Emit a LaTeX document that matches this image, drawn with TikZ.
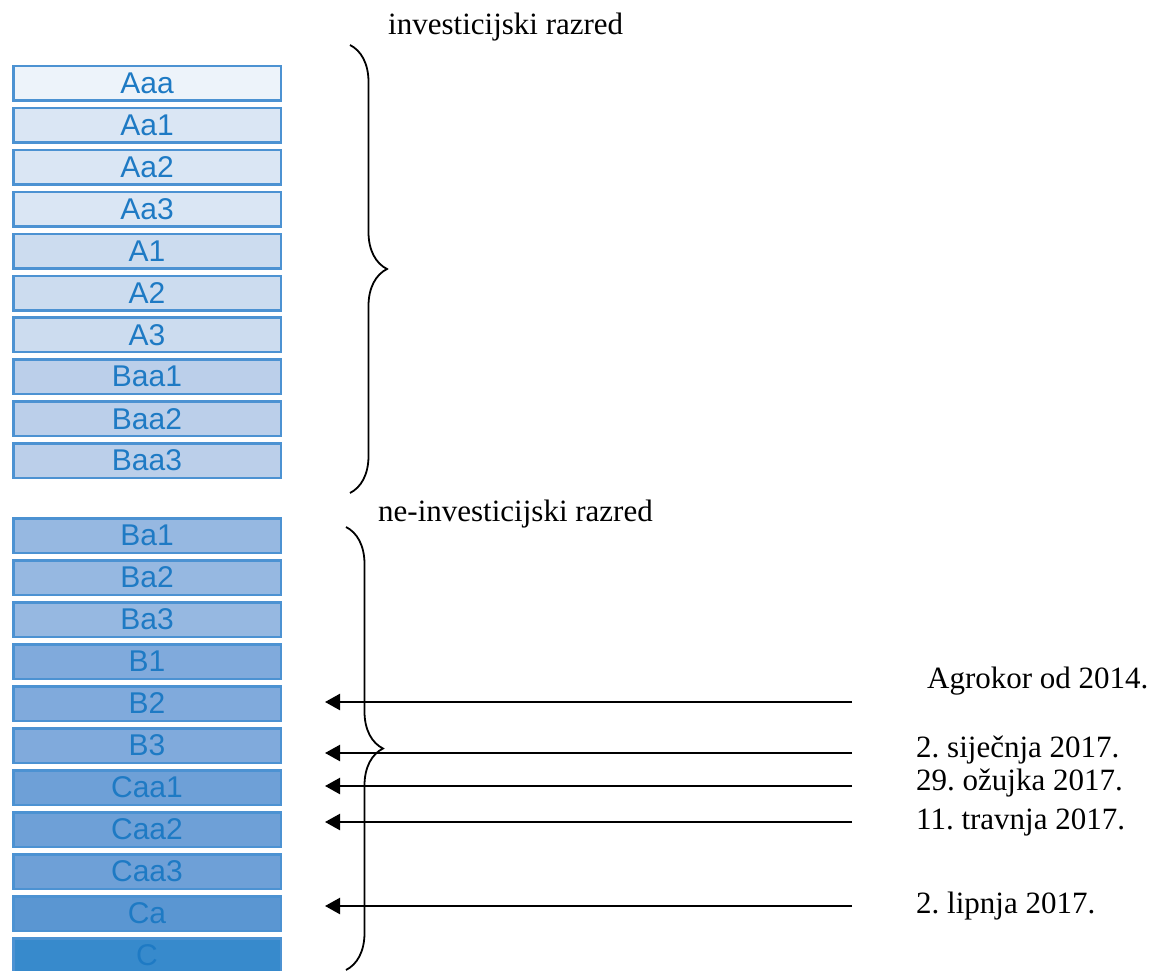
\documentclass[tikz,border=0pt]{standalone}
\usepackage{fontspec}
\setmainfont{Liberation Serif}
\newfontfamily\ratingfont{Liberation Sans}
\usetikzlibrary{arrows.meta,decorations.pathreplacing}
\definecolor{rateedge}{RGB}{76,146,210}
\definecolor{ratetext}{RGB}{30,122,196}
\definecolor{gAaa}{RGB}{237,243,250}
\definecolor{gAa}{RGB}{218,230,244}
\definecolor{gA}{RGB}{204,220,239}
\definecolor{gBaa}{RGB}{187,207,234}
\definecolor{gBa}{RGB}{150,184,225}
\definecolor{gB}{RGB}{128,170,220}
\definecolor{gCaa}{RGB}{110,160,215}
\definecolor{gCa}{RGB}{90,150,210}
\definecolor{gC}{RGB}{55,138,204}
\frenchspacing
\begin{document}
\begin{tikzpicture}[x=1pt,y=-1pt,
  rating/.style={draw=rateedge,line width=2.5pt,minimum width=267.5pt,minimum height=34.5pt,
    inner sep=0pt,text=ratetext,font=\ratingfont\fontsize{30}{30}\selectfont},
  arr/.style={line width=2.3pt,-{Triangle[length=15pt,width=16pt]}},
  brc/.style={line width=1.8pt,decorate,decoration={brace,amplitude=37pt}},
  lbl/.style={anchor=base west,inner sep=0pt,font=\fontsize{31}{31}\selectfont}]
\useasboundingbox (0,0) rectangle (1160,971);
% investicijski razred
\node[rating,fill=gAaa] (Aaa)  at (147,83.5)  {Aaa};
\node[rating,fill=gAa]  (Aa1)  at (147,125.4) {Aa1};
\node[rating,fill=gAa]  (Aa2)  at (147,167.3) {Aa2};
\node[rating,fill=gAa]  (Aa3)  at (147,209.2) {Aa3};
\node[rating,fill=gA]   (A1)   at (147,251.1) {A1};
\node[rating,fill=gA]   (A2)   at (147,293)   {A2};
\node[rating,fill=gA]   (A3)   at (147,334.9) {A3};
\node[rating,fill=gBaa] (Baa1) at (147,376.8) {Baa1};
\node[rating,fill=gBaa] (Baa2) at (147,418.7) {Baa2};
\node[rating,fill=gBaa] (Baa3) at (147,460.6) {Baa3};
% ne-investicijski razred
\node[rating,fill=gBa]  (Ba1)  at (147,535.5) {Ba1};
\node[rating,fill=gBa]  (Ba2)  at (147,577.5) {Ba2};
\node[rating,fill=gBa]  (Ba3)  at (147,619.5) {Ba3};
\node[rating,fill=gB]   (B1)   at (147,661.5) {B1};
\node[rating,fill=gB]   (B2)   at (147,703.5) {B2};
\node[rating,fill=gB]   (B3)   at (147,745.5) {B3};
\node[rating,fill=gCaa] (Caa1) at (147,787.5) {Caa1};
\node[rating,fill=gCaa] (Caa2) at (147,829.5) {Caa2};
\node[rating,fill=gCaa] (Caa3) at (147,871.5) {Caa3};
\node[rating,fill=gCa]  (Ca)   at (147,913.5) {Ca};
\node[rating,fill=gC]   (C)    at (147,955.5) {C};
% zagrade
\coordinate (IT) at (350,45);
\coordinate (IB) at (350,493);
\coordinate (NT) at (346,527);
\coordinate (NB) at (346,970);
\draw[brc] (IT) -- (IB);
\draw[brc] (NT) -- (NB);
\node[lbl] (inv) at (388,35) {investicijski razred};
\node[lbl] (ninv) at (378,521) {ne-investicijski razred};
% datumi
\node[lbl] (d0) at (927,688) {Agrokor od 2014.};
\node[lbl] (d1) at (916,757) {2. siječnja 2017.};
\node[lbl] (d2) at (916,790) {29. ožujka 2017.};
\node[lbl] (d3) at (916,829) {11. travnja 2017.};
\node[lbl] (d4) at (916,913) {2. lipnja 2017.};
\coordinate (s0) at (852,702); \coordinate (t0) at (325,702);
\coordinate (s1) at (852,753); \coordinate (t1) at (325,753);
\coordinate (s2) at (852,786); \coordinate (t2) at (325,786);
\coordinate (s3) at (852,822); \coordinate (t3) at (325,822);
\coordinate (s4) at (852,906); \coordinate (t4) at (325,906);
\draw[arr] (s0) -- (t0);
\draw[arr] (s1) -- (t1);
\draw[arr] (s2) -- (t2);
\draw[arr] (s3) -- (t3);
\draw[arr] (s4) -- (t4);
\end{tikzpicture}
\end{document}
